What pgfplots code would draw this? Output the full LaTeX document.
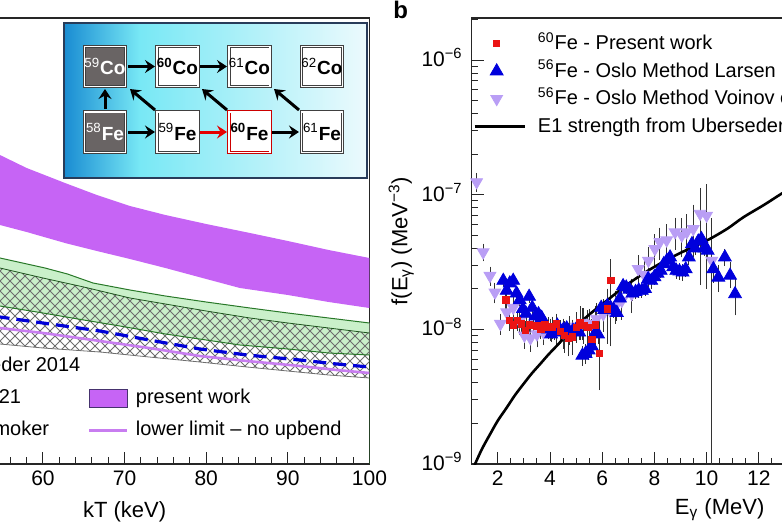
\documentclass[border=0pt]{standalone}
\usepackage{fontspec}
\setmainfont{Liberation Sans}
\usepackage{pgfplots}
\pgfplotsset{compat=1.18}
\usetikzlibrary{patterns,arrows.meta}
\pgfdeclarepatternformonly{myne}{\pgfqpoint{-1pt}{-1pt}}{\pgfqpoint{6pt}{6pt}}{\pgfqpoint{5pt}{5pt}}{%
  \pgfsetlinewidth{0.4pt}\pgfpathmoveto{\pgfqpoint{-0.1pt}{-0.1pt}}\pgfpathlineto{\pgfqpoint{5.1pt}{5.1pt}}\pgfusepath{stroke}}
\pgfdeclarepatternformonly{mynw}{\pgfqpoint{-1pt}{-1pt}}{\pgfqpoint{6pt}{6pt}}{\pgfqpoint{5pt}{5pt}}{%
  \pgfsetlinewidth{0.4pt}\pgfpathmoveto{\pgfqpoint{-0.1pt}{5.1pt}}\pgfpathlineto{\pgfqpoint{5.1pt}{-0.1pt}}\pgfusepath{stroke}}
\definecolor{pw}{RGB}{198,100,245}
\definecolor{pwedge}{RGB}{70,50,110}
\definecolor{ll}{RGB}{200,125,240}
\definecolor{gfill}{RGB}{202,240,202}
\definecolor{gline}{RGB}{40,120,40}
\definecolor{hatchc}{RGB}{110,110,110}
\definecolor{dblue}{RGB}{0,0,215}
\definecolor{larsen}{RGB}{0,0,220}
\definecolor{voinov}{RGB}{185,158,245}
\definecolor{redsq}{RGB}{235,20,20}
\definecolor{boxdark}{RGB}{105,100,100}
\definecolor{insA}{RGB}{25,140,210}
\definecolor{insB}{RGB}{120,232,245}
\definecolor{insC}{RGB}{236,250,253}
\definecolor{insE}{RGB}{40,60,90}
\pgfplotsset{
  boxleg/.style={legend image code/.code={\draw[##1] (0pt,-4.5pt) rectangle (19pt,4.5pt);}},
  lineleg/.style={legend image code/.code={\draw[##1] (0pt,0pt) -- (19pt,0pt);}},
  markleg/.style={legend image code/.code={\draw[mark repeat=2,mark phase=2,##1] plot coordinates {(0pt,0pt) (11pt,0pt) (25pt,0pt)};}},
}
\begin{document}
\begin{tikzpicture}
% ---------------- left panel ----------------
\begin{axis}[
  at={(-60.125pt,-232pt)}, anchor=south west, scale only axis,
  width=244.875pt, height=223pt,
  xmin=40, xmax=100, ymin=0, ymax=44.6,
  xtick={40,50,...,100}, minor x tick num=4, ytick={0},
  xtick pos=bottom, ytick pos=left, tick align=inside,
  major tick length=6pt, minor tick length=3.3pt,
  axis line style={line width=0.6pt, black!85},
  every tick/.append style={line width=0.5pt, black!85},
  tick label style={font=\fontsize{10.5}{12}\selectfont},
  /pgf/number format/assume math mode=true,
  xlabel={kT (keV)},
  xlabel style={font=\fontsize{11}{13}\selectfont, at={(axis description cs:0.5,-0.108)}, anchor=center},
  legend columns=2, legend cell align=left,
  lineleg,
  legend style={draw=none, fill=none, inner sep=0pt, at={(axis description cs:0.952,0.25)}, anchor=north east,
    font=\fontsize{10}{12}\selectfont, nodes={text height=7.5pt, text depth=2pt, inner sep=2pt}, row sep=2.5pt,
    /tikz/every odd column/.append style={column sep=1.5pt},
    /tikz/every even column/.append style={column sep=1.7pt}},
]
% present work band (upper edge, then lower edge reversed)
\addplot[fill=pw, draw=none, forget plot] coordinates {
(40,37.5) (45,34.8) (50,32.8) (54.73,30.9) (58,29.6) (62.7,28.1) (66.6,26.9) (70.66,25.8) (75,24.9) (80,24.0) (85.36,23.1) (90,22.3) (95,21.4) (100,20.6)
(100,15.6) (95,16.2) (90,16.9) (84.13,17.6) (80,18.5) (75,19.6) (70.66,20.5) (66.6,21.3) (62.7,22.1) (58,23.2) (54.73,23.9) (50,24.9) (45,26.0) (40,27.4)} -- cycle;
% Yan 2021 band
\addplot[fill=gfill, draw=none, forget plot] coordinates {
(40,24.9) (45,23.2) (50,21.8) (54.73,20.6) (60.25,19.6) (63,19.0) (66.13,18.1) (70.66,17.4) (75,16.8) (80,16.2) (85.36,15.6) (90,15.1) (95,14.6) (100,14.1)
(100,10.9) (95,11.1) (90,11.5) (84.13,11.9) (80,12.4) (75,13.0) (69.43,13.8) (65,14.4) (60,15.1) (54.73,15.8) (50,16.6) (45,17.4) (40,18.4)} -- cycle;
% Uberseder 2014 band (hatched)
\addplot[pattern=myne, pattern color=hatchc, draw=none, forget plot] coordinates {
(40,23.0) (45,21.8) (50,20.6) (54.73,19.6) (60,18.6) (65,17.7) (70.66,16.6) (75,16.0) (80,15.3) (85.36,14.6) (90,14.1) (95,13.6) (100,13.1)
(100,8.6) (95,8.9) (90,9.3) (85,9.7) (79.23,10.2) (73,10.7) (66.98,11.2) (60,11.6) (54.73,12.0) (50,12.8) (45,13.6) (40,14.5)} -- cycle;
\addplot[pattern=mynw, pattern color=hatchc, draw=none, forget plot] coordinates {
(40,23.0) (45,21.8) (50,20.6) (54.73,19.6) (60,18.6) (65,17.7) (70.66,16.6) (75,16.0) (80,15.3) (85.36,14.6) (90,14.1) (95,13.6) (100,13.1)
(100,8.6) (95,8.9) (90,9.3) (85,9.7) (79.23,10.2) (73,10.7) (66.98,11.2) (60,11.6) (54.73,12.0) (50,12.8) (45,13.6) (40,14.5)} -- cycle;
\addplot[gline!70!black, line width=0.4pt, forget plot] coordinates {
(40,23.0) (45,21.8) (50,20.6) (54.73,19.6) (60,18.6) (65,17.7) (70.66,16.6) (75,16.0) (80,15.3) (85.36,14.6) (90,14.1) (95,13.6) (100,13.1)};
\addplot[hatchc, line width=0.4pt, forget plot] coordinates {
(40,14.5) (45,13.6) (50,12.8) (54.73,12.0) (60,11.6) (66.98,11.2) (73,10.7) (79.23,10.2) (85,9.7) (90,9.3) (95,8.9) (100,8.6)};
\addplot[gline, line width=0.5pt, forget plot] coordinates {
(40,24.9) (45,23.2) (50,21.8) (54.73,20.6) (60.25,19.6) (63,19.0) (66.13,18.1) (70.66,17.4) (75,16.8) (80,16.2) (85.36,15.6) (90,15.1) (95,14.6) (100,14.1)};
\addplot[gline, line width=0.5pt, forget plot] coordinates {
(40,18.4) (45,17.4) (50,16.6) (54.73,15.8) (60,15.1) (65,14.4) (69.43,13.8) (75,13.0) (80,12.4) (84.13,11.9) (90,11.5) (95,11.1) (100,10.9)};
\addplot[gline, line width=0.6pt, forget plot] coordinates {(100,0) (100,10.9)};
\addplot[dblue, line width=1.6pt, dash pattern=on 6.5pt off 3.5pt, forget plot] coordinates {
(40,17.5) (45,16.5) (50,15.6) (54.73,14.7) (60,14.1) (66.98,13.3) (73,12.4) (79.23,11.5) (85,10.9) (91.49,10.4) (96,10.0) (100,9.7)};
\addplot[ll, line width=1.3pt, forget plot] coordinates {
(40,16.3) (45,15.3) (50,14.4) (54.73,13.6) (60,13.1) (66.98,12.3) (73,11.6) (79.23,10.8) (85,10.3) (91.49,9.8) (96,9.4) (100,9.1)};
% legend
\addlegendimage{boxleg, draw=hatchc, fill=white}
\addlegendentry{Uberseder 2014}
\addlegendimage{lineleg, draw opacity=0}
\addlegendentry{\phantom{x}}
\addlegendimage{boxleg, draw=gline, fill=gfill}
\addlegendentry{Yan 2021}
\addlegendimage{boxleg, draw=pwedge, fill=pw, line width=0.6pt}
\addlegendentry{present work}
\addlegendimage{lineleg, dblue, line width=1.6pt, dash pattern=on 6.5pt off 3.5pt}
\addlegendentry{Non-Smoker}
\addlegendimage{lineleg, ll, line width=1.6pt}
\addlegendentry{lower limit – no upbend}
\end{axis}
% ---------------- right panel ----------------
\begin{axis}[
  at={(235.85pt,-232pt)}, anchor=south west, scale only axis,
  width=247.95pt, height=223pt,
  xmin=1, xmax=20, ymode=log, ymin=1e-9, ymax=2.05e-6,
  xtick={2,4,...,20}, minor x tick num=3,
  ytick={1e-9,1e-8,1e-7,1e-6},
  yticklabels={10\textsuperscript{−9},10\textsuperscript{−8},10\textsuperscript{−7},10\textsuperscript{−6}},
  minor ytick={2e-9,3e-9,4e-9,5e-9,6e-9,7e-9,8e-9,9e-9,2e-8,3e-8,4e-8,5e-8,6e-8,7e-8,8e-8,9e-8,2e-7,3e-7,4e-7,5e-7,6e-7,7e-7,8e-7,9e-7,2e-6},
  xtick pos=bottom, ytick pos=left, tick align=inside,
  major tick length=6pt, minor tick length=3.2pt,
  axis line style={line width=0.6pt, black!85},
  every tick/.append style={line width=0.5pt, black!85},
  tick label style={font=\fontsize{10.5}{12}\selectfont},
  yticklabel style={yshift=1.2pt, xshift=-1pt},
  /pgf/number format/assume math mode=true,
  xlabel={E\textsubscript{γ} (MeV)},
  xlabel style={font=\fontsize{11}{13}\selectfont, at={(axis description cs:0.5,-0.103)}, anchor=center},
  ylabel={f(E\textsubscript{γ}) (MeV\textsuperscript{−3})},
  ylabel style={font=\fontsize{11}{13}\selectfont, at={(axis description cs:-0.142,0.5)}, anchor=center},
  legend cell align=left,
  markleg,
  legend style={draw=none, fill=none, inner sep=0pt, at={(axis description cs:0.0026,0.973)}, anchor=north west,
    font=\fontsize{10}{12}\selectfont, nodes={text height=8pt, text depth=2pt, inner sep=1.5pt}, row sep=0.85pt,
    /tikz/every odd column/.append style={column sep=4.5pt}},
  error bars/error bar style={line width=0.45pt, black!80},
  error bars/error mark options={mark size=1.3pt, line width=0.45pt, black!80},
]
% Voinov
\addplot[only marks, mark=triangle*, mark size=3.4pt, color=voinov, mark options={rotate=180, fill=voinov, draw=voinov}, forget plot,
  error bars/.cd, y dir=both, y explicit] coordinates {
(1.19,12.4e-8) +- (0,1.5e-8)
(1.44,3.74e-8) +- (0,0.4e-8)
(1.70,2.50e-8) +- (0,0.3e-8)
(1.89,1.88e-8) +- (0,0.25e-8)
(2.10,1.10e-8) +- (0,0.15e-8)
(2.34,1.34e-8) +- (0,0.2e-8)
(2.59,1.45e-8) +- (0,0.2e-8)
(2.84,1.15e-8) +- (0,0.2e-8)
(3.02,0.90e-8) +- (0,0.15e-8)
(3.25,0.86e-8) +- (0,0.15e-8)
(3.50,0.92e-8) +- (0,0.15e-8)
(3.75,0.95e-8) +- (0,0.15e-8)
(4.00,1.00e-8) +- (0,0.15e-8)
(4.25,0.98e-8) +- (0,0.2e-8)
(4.50,0.95e-8) +- (0,0.2e-8)
(4.75,1.00e-8) +- (0,0.2e-8)
(5.00,1.05e-8) +- (0,0.2e-8)
(5.25,1.12e-8) +- (0,0.25e-8)
(5.50,1.10e-8) +- (0,0.25e-8)
(5.78,1.20e-8) +- (0,0.3e-8)
(6.04,1.30e-8) +- (0,0.3e-8)
(6.30,1.38e-8) +- (0,0.35e-8)
(6.52,1.50e-8) +- (0,0.35e-8)
(6.75,1.63e-8) +- (0,0.4e-8)
(7.13,1.83e-8) +- (0,0.45e-8)
(7.38,2.81e-8) +- (0,0.6e-8)
(7.60,2.55e-8) +- (0,0.6e-8)
(7.77,3.24e-8) +- (0,0.7e-8)
(8.02,3.96e-8) +- (0,0.9e-8)
(8.21,4.45e-8) +- (0,1.0e-8)
(8.47,4.59e-8) +- (0,1.2e-8)
(8.79,5.27e-8) +- (0,1.2e-8)
(9.05,4.98e-8) +- (0,1.4e-8)
(9.24,5.27e-8) +- (0,1.6e-8)
(9.49,5.58e-8) += (0,2.5e-8) -= (0,2.0e-8)
(9.75,7.23e-8) += (0,3.5e-8) -= (0,5.0e-8)
(10.00,7.00e-8) += (0,4.4e-8) -= (0,4.9e-8)
(10.20,3.24e-8) += (0,3.2e-8) -= (0,3.2399e-8)
};
% Larsen
\addplot[only marks, mark=triangle*, mark size=3.7pt, color=larsen, mark options={fill=larsen, draw=larsen}, forget plot,
  error bars/.cd, y dir=both, y explicit] coordinates {
(2.21,2.30e-8) +- (0,0.15e-8)
(2.34,1.94e-8) +- (0,0.12e-8)
(2.46,2.20e-8) +- (0,0.12e-8)
(2.59,2.30e-8) +- (0,0.12e-8)
(2.72,1.85e-8) +- (0,0.1e-8)
(2.84,1.65e-8) +- (0,0.1e-8)
(2.96,1.42e-8) +- (0,0.1e-8)
(3.08,1.31e-8) +- (0,0.1e-8)
(3.20,1.75e-8) +- (0,0.1e-8)
(3.32,1.45e-8) +- (0,0.1e-8)
(3.44,1.25e-8) +- (0,0.1e-8)
(3.56,1.30e-8) +- (0,0.1e-8)
(3.68,1.22e-8) +- (0,0.1e-8)
(3.80,1.10e-8) +- (0,0.1e-8)
(3.92,1.00e-8) +- (0,0.08e-8)
(4.04,0.92e-8) +- (0,0.08e-8)
(4.16,0.95e-8) +- (0,0.08e-8)
(4.28,1.07e-8) +- (0,0.08e-8)
(4.40,0.98e-8) +- (0,0.08e-8)
(4.52,1.00e-8) +- (0,0.08e-8)
(4.64,1.02e-8) +- (0,0.08e-8)
(4.76,0.95e-8) +- (0,0.08e-8)
(4.88,0.98e-8) +- (0,0.08e-8)
(5.00,1.00e-8) +- (0,0.08e-8)
(5.12,0.95e-8) +- (0,0.08e-8)
(5.24,0.64e-8) +- (0,0.08e-8)
(5.36,0.66e-8) +- (0,0.08e-8)
(5.48,0.70e-8) +- (0,0.08e-8)
(5.60,0.75e-8) +- (0,0.08e-8)
(5.72,0.93e-8) +- (0,0.1e-8)
(5.84,0.92e-8) +- (0,0.1e-8)
(5.96,1.45e-8) +- (0,0.12e-8)
(6.08,1.40e-8) +- (0,0.12e-8)
(6.20,1.50e-8) +- (0,0.12e-8)
(6.32,1.45e-8) +- (0,0.12e-8)
(6.44,1.40e-8) +- (0,0.12e-8)
(6.56,1.33e-8) +- (0,0.12e-8)
(6.68,1.70e-8) +- (0,0.12e-8)
(6.80,2.10e-8) +- (0,0.15e-8)
(6.92,2.05e-8) +- (0,0.15e-8)
(7.04,1.98e-8) +- (0,0.15e-8)
(7.16,1.85e-8) +- (0,0.15e-8)
(7.28,1.90e-8) +- (0,0.15e-8)
(7.40,1.95e-8) +- (0,0.15e-8)
(7.52,1.94e-8) +- (0,0.15e-8)
(7.64,2.00e-8) +- (0,0.15e-8)
(7.76,2.37e-8) +- (0,0.2e-8)
(7.88,2.30e-8) +- (0,0.2e-8)
(8.00,2.45e-8) +- (0,0.2e-8)
(8.12,2.60e-8) +- (0,0.2e-8)
(8.24,2.73e-8) +- (0,0.2e-8)
(8.36,3.06e-8) +- (0,0.2e-8)
(8.48,3.24e-8) +- (0,0.25e-8)
(8.60,3.43e-8) +- (0,0.25e-8)
(8.72,2.90e-8) +- (0,0.25e-8)
(8.84,2.73e-8) +- (0,0.25e-8)
(8.96,2.70e-8) +- (0,0.25e-8)
(9.08,2.65e-8) +- (0,0.25e-8)
(9.20,2.80e-8) +- (0,0.25e-8)
(9.32,3.43e-8) +- (0,0.3e-8)
(9.44,4.31e-8) +- (0,0.3e-8)
(9.56,4.00e-8) +- (0,0.3e-8)
(9.68,4.50e-8) +- (0,0.35e-8)
(9.80,4.70e-8) +- (0,0.35e-8)
(9.92,4.00e-8) +- (0,0.35e-8)
(10.04,3.85e-8) +- (0,0.4e-8)
(10.26,2.81e-8) +- (0,0.5e-8)
(10.45,2.43e-8) +- (0,0.45e-8)
(10.70,3.43e-8) +- (0,0.35e-8)
(10.90,2.51e-8) += (0,0.5e-8) -= (0,0.4e-8)
(11.09,1.83e-8) += (0,0.5e-8) -= (0,0.5e-8)
};
% present work
\addplot[only marks, mark=square*, mark size=1.6pt, color=redsq, mark options={fill=redsq, draw=redsq}, forget plot,
  error bars/.cd, y dir=both, y explicit] coordinates {
(2.31,1.66e-8) +- (0,0.2e-8)
(2.45,1.17e-8) +- (0,0.15e-8)
(2.60,1.08e-8) +- (0,0.2e-8)
(2.75,1.16e-8) +- (0,0.15e-8)
(2.90,1.10e-8) +- (0,0.15e-8)
(3.05,0.98e-8) +- (0,0.12e-8)
(3.20,1.08e-8) +- (0,0.15e-8)
(3.35,1.07e-8) +- (0,0.12e-8)
(3.50,1.06e-8) +- (0,0.12e-8)
(3.65,1.01e-8) +- (0,0.12e-8)
(3.80,1.08e-8) +- (0,0.15e-8)
(3.95,1.03e-8) +- (0,0.15e-8)
(4.10,1.04e-8) +- (0,0.15e-8)
(4.25,1.10e-8) +- (0,0.15e-8)
(4.40,0.97e-8) +- (0,0.15e-8)
(4.55,0.90e-8) +- (0,0.2e-8)
(4.70,0.86e-8) +- (0,0.2e-8)
(4.85,0.88e-8) += (0,0.25e-8) -= (0,0.2e-8)
(5.00,1.03e-8) += (0,0.25e-8) -= (0,0.2e-8)
(5.15,1.12e-8) += (0,0.3e-8) -= (0,0.25e-8)
(5.30,1.07e-8) += (0,0.3e-8) -= (0,0.25e-8)
(5.45,1.03e-8) += (0,0.3e-8) -= (0,0.25e-8)
(5.60,0.84e-8) += (0,0.3e-8) -= (0,0.2e-8)
(5.75,1.08e-8) += (0,0.35e-8) -= (0,0.3e-8)
(5.89,0.66e-8) += (0,0.54e-8) -= (0,0.29e-8)
(6.20,1.42e-8) += (0,0.5e-8) -= (0,0.6e-8)
(6.33,2.30e-8) += (0,0.86e-8) -= (0,1.52e-8)
};
% E1 strength
\addplot[black, line width=1.3pt, smooth, forget plot] coordinates {
(1.08,0.92e-9) (1.13,1.0e-9) (1.4,1.3e-9) (1.7,1.66e-9) (2.0,2.1e-9) (2.34,2.62e-9) (2.66,3.25e-9) (2.98,3.92e-9)
(3.3,4.7e-9) (3.62,5.52e-9) (3.94,6.5e-9) (4.26,7.55e-9) (4.58,8.8e-9) (4.89,1.0e-8) (5.21,1.15e-8) (5.53,1.30e-8)
(5.85,1.46e-8) (6.17,1.63e-8) (6.49,1.83e-8) (6.81,2.05e-8) (7.13,2.27e-8) (7.45,2.5e-8) (7.77,2.74e-8) (8.09,2.98e-8)
(8.5,3.3e-8) (9.0,3.7e-8) (9.5,4.1e-8) (10.13,4.7e-8) (10.8,5.6e-8) (11.41,6.8e-8) (12.2,8.4e-8) (12.88,1.02e-7) (13.5,1.2e-7)};
\addlegendimage{markleg, only marks, mark=square*, mark size=1.6pt, color=redsq}
\addlegendentry{\textsuperscript{60}Fe - Present work}
\addlegendimage{markleg, only marks, mark=triangle*, mark size=3.7pt, color=larsen, mark options={fill=larsen}}
\addlegendentry{\textsuperscript{56}Fe - Oslo Method Larsen et al.}
\addlegendimage{markleg, only marks, mark=triangle*, mark size=3.4pt, color=voinov, mark options={rotate=180, fill=voinov}}
\addlegendentry{\textsuperscript{56}Fe - Oslo Method Voinov et al.}
\addlegendimage{markleg, black, line width=1.3pt}
\addlegendentry{E1 strength from Uberseder et al.}
\end{axis}
% panel letter
\node[anchor=base west, font=\fontsize{12}{14}\selectfont\bfseries, inner sep=0pt] at (196.5pt,-9.3pt) {b};
% ---------------- inset diagram ----------------
\begin{scope}[x=0.5pt,y=-0.5pt]
\shade[left color=insA, right color=insB] (64,23) rectangle (140,178);
\shade[left color=insB, right color=insC] (140,23) rectangle (367,178);
\draw[insE, line width=1pt] (64,23) rectangle (367,178);
\tikzset{nb/.style={draw=black!75, double=white, double distance=0.7pt, line width=0.45pt,
   minimum width=20.6pt, minimum height=20.2pt, inner sep=0pt, fill=white,
   font=\fontsize{9.5}{11}\selectfont\bfseries},
   dk/.style={nb, fill=boxdark, text=white},
   ar/.style={-{Stealth[length=5pt,width=6.5pt,inset=1.8pt]}, line width=1.5pt, black}}
\node[dk] at (105,66.5) {\textsuperscript{\mdseries 59}Co};
\node[nb] at (177.5,66.5) {\textsuperscript{60}Co};
\node[nb] at (249.5,66.5) {\textsuperscript{\mdseries 61}Co};
\node[nb] at (322,66.5) {\textsuperscript{\mdseries 62}Co};
\node[dk] at (105,132) {\textsuperscript{\mdseries 58}Fe};
\node[nb] at (177.5,132) {\textsuperscript{\mdseries 59}Fe};
\node[nb, draw=red!80!black] at (249.5,132) {\textsuperscript{60}Fe};
\node[nb] at (322,132) {\textsuperscript{\mdseries 61}Fe};
\draw[ar] (128,66.5) -- (155,66.5);
\draw[ar] (200,66.5) -- (227,66.5);
\draw[ar] (128,132) -- (155,132);
\draw[ar, red!90!black] (200,132) -- (227,132);
\draw[ar] (272,132) -- (299,132);
\draw[ar] (105,109) -- (105,89);
\draw[ar] (155,110) -- (130,89);
\draw[ar] (227,110) -- (202,89);
\draw[ar] (299,110) -- (274,89);
\end{scope}
\pgfresetboundingbox
\path (0pt,0pt) rectangle (391pt,-260.5pt);
\end{tikzpicture}
\end{document}
